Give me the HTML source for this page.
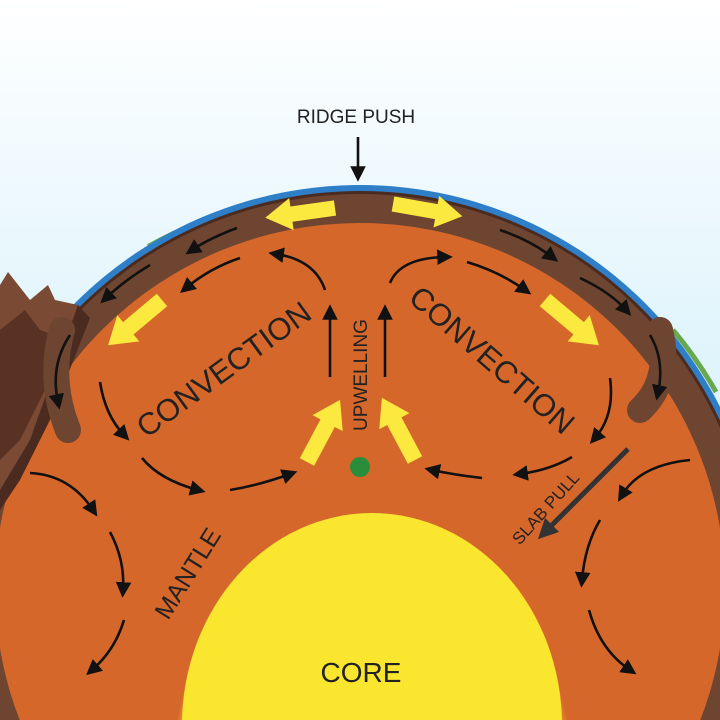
<!DOCTYPE html>
<html><head><meta charset="utf-8"><style>html,body{margin:0;padding:0;background:#fff;width:720px;height:720px;overflow:hidden}svg{display:block}</style></head>
<body>
<svg width="720" height="720" viewBox="0 0 720 720" xmlns="http://www.w3.org/2000/svg" font-family="'Liberation Sans', sans-serif">
<defs>
<linearGradient id="sky" x1="0" y1="0" x2="0" y2="1">
<stop offset="0" stop-color="#ffffff"/><stop offset="0.45" stop-color="#e2f5fc"/><stop offset="1" stop-color="#cdeefb"/>
</linearGradient>
<radialGradient id="core" cx="0.5" cy="0.6" r="0.5">
<stop offset="0" stop-color="#fbe733"/><stop offset="0.93" stop-color="#f9e12b"/><stop offset="1" stop-color="#f3b52a" stop-opacity="0"/>
</radialGradient>
<marker id="ah" markerWidth="6" markerHeight="6" refX="3" refY="3" orient="auto" markerUnits="strokeWidth">
<path d="M0,0 L6,3 L0,6 Z" fill="#111"/>
</marker>
<marker id="ah2" markerWidth="4" markerHeight="4" refX="2" refY="2" orient="auto" markerUnits="strokeWidth">
<path d="M0,0 L4,2 L0,4 Z" fill="#333"/>
</marker>
<g id="ya"><path d="M0,-9 L40,-9 L40,-19 L64,0 L40,19 L40,9 L0,9 Z" fill="#fbe940"/></g>
</defs>
<rect width="720" height="720" fill="url(#sky)"/>
<!-- earth -->
<path d="M673,330 A406,406 0 0 1 716,392" stroke="#6aa84f" stroke-width="5" fill="none"/>
<path d="M148,246 A406,406 0 0 1 175,232" stroke="#6aa84f" stroke-width="4" fill="none"/>
<circle cx="360" cy="588" r="403" fill="#2f7fc8"/>
<circle cx="360" cy="588" r="397" fill="#4b2b1f"/>
<circle cx="360" cy="588" r="394" fill="#6e4531"/>
<circle cx="360" cy="588" r="365" fill="#d6672b"/>
<!-- mountain -->
<path d="M0,285 L8,272 L30,300 L48,285 L55,300 L78,305 L85,320 L60,380 L40,430 L20,470 L0,500 Z" fill="#7a4a35"/>
<path d="M0,330 L25,310 L40,330 L62,338 L45,390 L20,440 L0,460 Z" fill="#5a3223"/>
<path d="M78,305 L90,318 L50,420 L20,480 L0,510 L0,490 L30,440 Z" fill="#4b2b1f"/>
<!-- subduction slabs -->
<path d="M62,330 Q48,380 68,430" stroke="#6e4531" stroke-width="26" stroke-linecap="round" fill="none"/>
<path d="M660,330 Q672,380 640,410" stroke="#6e4531" stroke-width="26" stroke-linecap="round" fill="none"/>
<!-- core -->
<ellipse cx="372" cy="722" rx="200" ry="222" fill="url(#core)"/>
<ellipse cx="372" cy="725" rx="190" ry="212" fill="#fae52f"/>
<!-- yellow arrows -->
<use href="#ya" transform="translate(335,208) rotate(172) scale(1.1,0.85)"/>
<use href="#ya" transform="translate(393,204) rotate(10) scale(1.1,0.85)"/>
<use href="#ya" transform="translate(162,300) rotate(140) scale(1.1,0.9)"/>
<use href="#ya" transform="translate(545,300) rotate(40) scale(1.1,0.9)"/>
<use href="#ya" transform="translate(307,462) rotate(-62) scale(1.1,0.9)"/>
<use href="#ya" transform="translate(415,460) rotate(-118) scale(1.1,0.9)"/>
<circle cx="360" cy="467" r="10" fill="#2a8d3c"/>
<!-- black arrows -->
<g stroke="#111" stroke-width="2.6" fill="none" marker-end="url(#ah)">
<path d="M237,228 Q210,238 192,250"/>
<path d="M150,265 Q125,280 106,298"/>
<path d="M70,335 Q50,365 58,402"/>
<path d="M240,258 Q210,268 186,288"/>
<path d="M325,290 Q315,260 276,254"/>
<path d="M100,382 Q105,415 124,435"/>
<path d="M142,458 Q160,480 198,490"/>
<path d="M230,490 Q260,485 290,474"/>
<path d="M330,377 L330,312"/>
<path d="M385,377 L385,312"/>
<path d="M390,283 Q400,258 445,257"/>
<path d="M467,262 Q500,272 525,290"/>
<path d="M500,230 Q530,240 552,257"/>
<path d="M580,278 Q610,292 626,310"/>
<path d="M650,335 Q665,360 658,393"/>
<path d="M610,378 Q615,415 595,438"/>
<path d="M572,457 Q550,470 520,474"/>
<path d="M482,478 Q455,475 432,470"/>
<path d="M30,473 Q70,475 93,510"/>
<path d="M110,532 Q125,560 123,590"/>
<path d="M124,620 Q115,650 92,670"/>
<path d="M690,460 Q640,465 622,495"/>
<path d="M600,520 Q585,545 582,580"/>
<path d="M589,610 Q600,650 630,670"/>
<path d="M358,137 L358,174"/>
</g>
<path d="M628,449 L545,532" stroke="#333" stroke-width="5" fill="none" marker-end="url(#ah2)"/>
<!-- text -->
<g fill="#222">
<text x="356" y="123" font-size="19" text-anchor="middle">RIDGE PUSH</text>
<text x="0" y="0" font-size="31" text-anchor="middle" transform="translate(230,378) rotate(-36)">CONVECTION</text>
<text x="0" y="0" font-size="31" text-anchor="middle" transform="translate(485,368) rotate(41)">CONVECTION</text>
<text x="0" y="0" font-size="19" text-anchor="middle" transform="translate(367,375) rotate(-90)">UPWELLING</text>
<text x="0" y="0" font-size="25" text-anchor="middle" transform="translate(195,578) rotate(-58)">MANTLE</text>
<text x="0" y="0" font-size="17" text-anchor="middle" transform="translate(550,512) rotate(-48)">SLAB PULL</text>
<text x="361" y="682" font-size="28" text-anchor="middle">CORE</text>
</g>
</svg>
</body></html>
